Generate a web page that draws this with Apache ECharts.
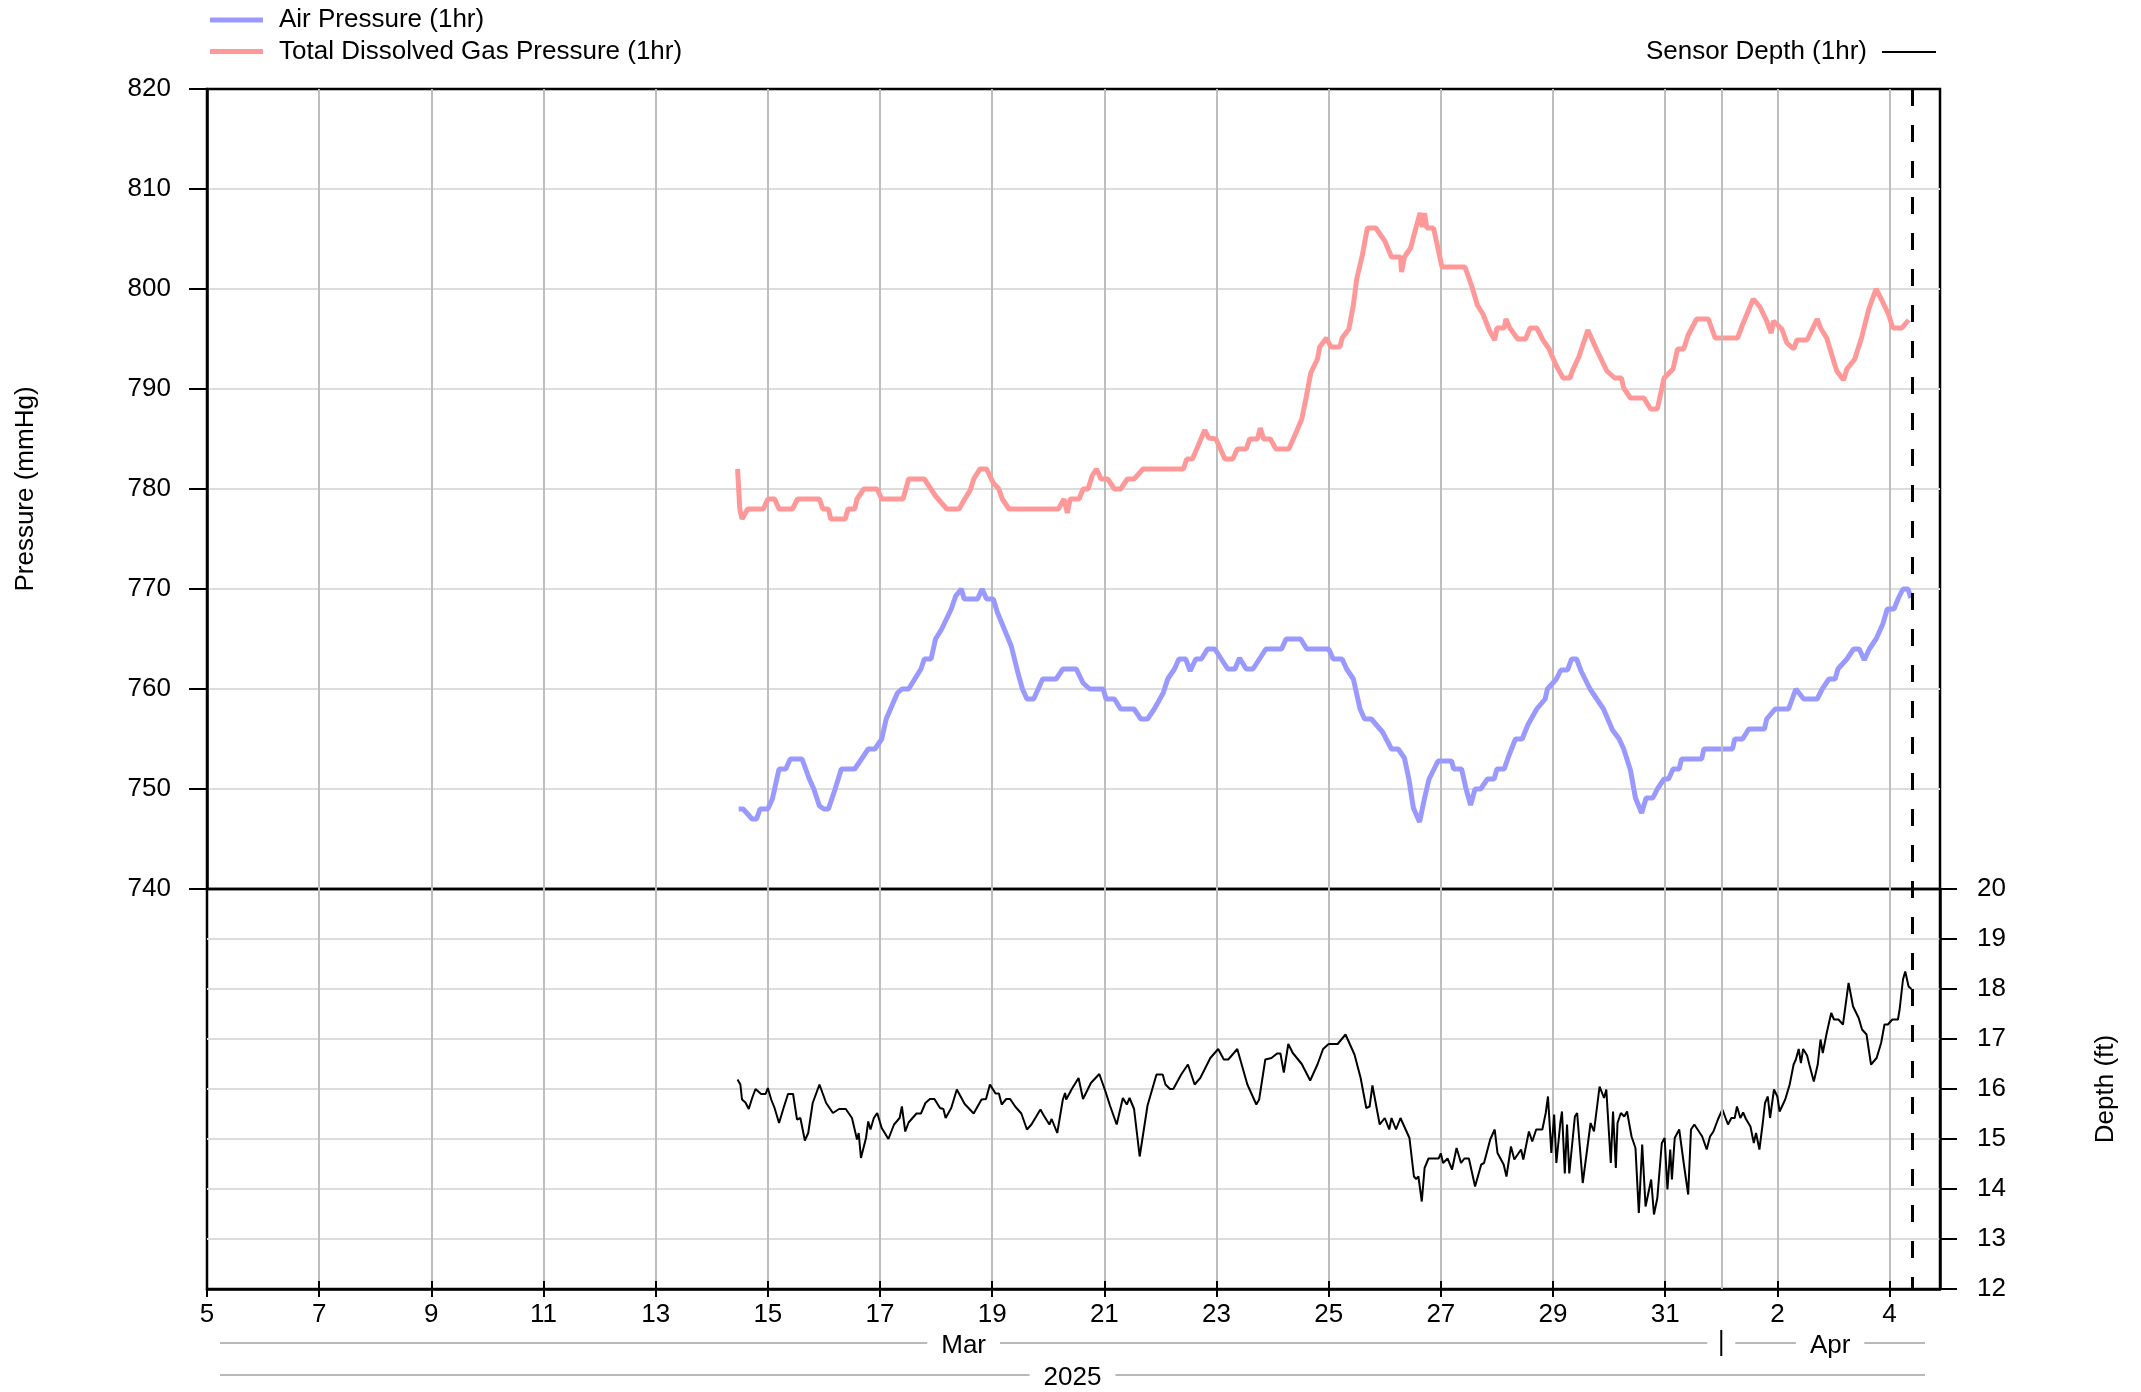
<!DOCTYPE html>
<html><head><meta charset="utf-8">
<script src="https://cdn.jsdelivr.net/npm/echarts@6/dist/echarts.min.js"></script>
<style>html,body{margin:0;padding:0;background:#fff}#c{width:2141px;height:1392px}</style>
</head><body><div id="c"></div>
<script>
// Time is given as day-of-March (decimal); values above 31 are April (32 = Apr 1).
const AXIS_START_DAY = 5;      // Mar 5 00:00
const AXIS_END_DAY = 35.9;     // Apr 4 ~21:30
const NOW_DAY = 35.41;         // dashed "now" marker
const MONTH_BREAK_DAY = 32;    // Apr 1
const xTickLabels = ['5','7','9','11','13','15','17','19','21','23','25','27','29','31','2','4'];
const monthNames = ['Mar','Apr'];
const yearName = '2025';
const pressureMin = 740, pressureMax = 820, pressureStep = 10;
const depthMin = 12, depthMax = 20, depthStep = 1;

const airDay = [14.48,14.56,14.72,14.8,14.86,15.0,15.08,15.2,15.32,15.4,15.61,15.74,15.82,15.92,16.0,16.08,16.2,16.31,16.55,16.67,16.79,16.91,17.03,17.11,17.31,17.39,17.51,17.73,17.79,17.91,17.99,18.1,18.27,18.35,18.45,18.5,18.74,18.82,18.9,19.02,19.09,19.34,19.46,19.54,19.62,19.74,19.9,20.14,20.26,20.5,20.62,20.74,20.98,21.03,21.18,21.29,21.53,21.65,21.77,21.89,22.05,22.13,22.25,22.33,22.45,22.53,22.63,22.73,22.84,22.97,23.2,23.33,23.41,23.53,23.65,23.88,24.16,24.24,24.5,24.61,25.0,25.08,25.24,25.32,25.44,25.56,25.64,25.76,25.96,26.12,26.24,26.35,26.43,26.51,26.62,26.71,26.79,26.95,27.19,27.23,27.37,27.45,27.53,27.61,27.71,27.83,27.95,28.0,28.13,28.21,28.33,28.45,28.55,28.71,28.86,28.9,29.06,29.14,29.26,29.33,29.42,29.5,29.66,29.9,30.06,30.18,30.26,30.38,30.47,30.58,30.66,30.78,30.86,30.98,31.06,31.14,31.25,31.29,31.65,31.69,32.2,32.24,32.38,32.49,32.77,32.81,32.96,33.2,33.33,33.47,33.71,33.8,33.92,34.03,34.08,34.24,34.36,34.46,34.55,34.64,34.76,34.88,34.96,35.08,35.16,35.24,35.33,35.38];
const airValue = [748,748,747,747,748,748,749,752,752,753,753,751,750,748.3,748,748,750,752,752,753,754,754,755,757,759.6,760,760,762,763,763,765,766,768,769.3,770,769,769,770,769,769,767.7,764.3,761.6,760,759,759,761,761,762,762,760.6,760,760,759,759,758,758,757,757,758,759.6,761,762,763,763,761.8,763,763,764,764,762,762,763.1,762,762,764,764,765,765,764,764,763,763,762,761,758,757,757,755.7,754,754,753.1,751,748.1,746.7,749.1,751,752.8,752.8,752,752,750,748.4,750,750,751,751,752,752,753.3,755,755,756.4,758,759,760,761,761.9,761.9,763,763,761.8,760,758,755.9,755,754,751.9,749.1,747.6,749.1,749.1,750,751,751,752,752,753,753,754,754,755,755,756,756,757,758,758,760,759,759,760,761,761,762,763,764,764,762.9,764,765,766.5,768,768,769.1,770,770,769.1];

const tdgDay = [14.46,14.5,14.54,14.64,14.92,15.0,15.12,15.2,15.44,15.53,15.92,15.98,16.08,16.12,16.38,16.43,16.55,16.59,16.71,16.95,17.03,17.41,17.51,17.79,17.99,18.19,18.41,18.51,18.61,18.67,18.78,18.9,19.02,19.12,19.18,19.3,20.18,20.28,20.34,20.39,20.55,20.62,20.71,20.78,20.86,20.94,21.06,21.18,21.29,21.41,21.53,21.69,22.41,22.47,22.57,22.67,22.79,22.86,22.99,23.15,23.29,23.37,23.53,23.59,23.73,23.78,23.84,23.96,24.06,24.29,24.43,24.52,24.6,24.68,24.8,24.84,24.96,25.04,25.2,25.24,25.36,25.44,25.5,25.6,25.69,25.84,26.0,26.12,26.28,26.3,26.35,26.46,26.55,26.63,26.67,26.71,26.75,26.87,27.02,27.43,27.55,27.65,27.75,27.87,27.96,28.0,28.13,28.16,28.23,28.37,28.51,28.59,28.71,28.82,28.93,29.06,29.18,29.3,29.36,29.46,29.62,29.78,29.96,30.1,30.22,30.26,30.38,30.62,30.74,30.86,30.98,31.14,31.22,31.33,31.41,31.56,31.77,31.89,32.29,32.37,32.57,32.69,32.81,32.89,32.93,33.08,33.17,33.29,33.35,33.53,33.71,33.77,33.88,34.02,34.06,34.18,34.24,34.38,34.5,34.63,34.76,34.86,34.98,35.06,35.22,35.34];
const tdgValue = [782,778,777,778,778,779,779,778,778,779,779,778,778,777,777,778,778,779,780,780,779,779,781,781,779.3,778,778,779,779.9,781,782,782,780.6,780,779,778,778,779,777.6,779,779,780,780,781.3,782,781,781,780,780,781,781,782,782,783,783,784.3,785.9,785.1,785,783,783,784,784,785,785,786.1,785,785,784,784,785.8,787,789.2,791.6,793,794.2,795.1,794.2,794.2,795.1,796,798.4,801,803.4,806.1,806.1,804.8,803.2,803.2,801.7,803.2,804.1,806,807.6,806.2,807.6,806.1,806.1,802.2,802.2,800.3,798.4,797.5,795.8,794.9,796.1,796.1,797,796.1,795,795,796.1,796.1,794.9,794,792.3,791.1,791.1,792,793.2,795.9,793.9,791.8,791.1,791.1,790.1,789.1,789.1,788,788,791.1,792,794,794,795.4,797,797,795.1,795.1,796.3,799,798.2,796.8,795.6,796.8,796,794.6,794,794.9,794.9,797,796.1,795.1,792.5,791.8,790.9,792,793,795.1,798,800,798.9,797.5,796.1,796.1,796.9];

const depthDay = [14.46,14.51,14.54,14.6,14.66,14.72,14.78,14.88,14.96,15.0,15.06,15.12,15.2,15.28,15.36,15.45,15.52,15.58,15.66,15.72,15.8,15.92,16.04,16.16,16.27,16.39,16.5,16.59,16.62,16.66,16.75,16.79,16.83,16.89,16.95,17.03,17.15,17.25,17.35,17.39,17.45,17.51,17.65,17.73,17.81,17.89,17.97,18.07,18.13,18.17,18.27,18.37,18.51,18.67,18.81,18.89,18.96,19.06,19.12,19.17,19.25,19.32,19.41,19.52,19.62,19.7,19.86,19.92,20.02,20.06,20.16,20.26,20.3,20.32,20.42,20.54,20.62,20.76,20.91,21.02,21.1,21.22,21.33,21.4,21.45,21.53,21.63,21.77,21.93,22.04,22.09,22.17,22.23,22.37,22.49,22.61,22.71,22.89,23.03,23.13,23.21,23.37,23.55,23.71,23.76,23.87,23.98,24.08,24.14,24.2,24.28,24.36,24.52,24.67,24.8,24.9,25.0,25.16,25.3,25.46,25.57,25.67,25.73,25.78,25.91,26.0,26.08,26.12,26.2,26.28,26.44,26.52,26.56,26.6,26.66,26.71,26.78,26.96,27.0,27.04,27.12,27.2,27.28,27.36,27.42,27.5,27.61,27.72,27.77,27.88,27.96,28.01,28.12,28.17,28.25,28.31,28.43,28.47,28.57,28.63,28.7,28.81,28.87,28.91,28.97,29.02,29.06,29.13,29.16,29.21,29.25,29.29,29.35,29.39,29.43,29.53,29.67,29.73,29.83,29.91,29.95,30.03,30.07,30.12,30.15,30.21,30.27,30.32,30.4,30.47,30.53,30.59,30.65,30.75,30.8,30.86,30.94,30.99,31.04,31.09,31.12,31.17,31.25,31.33,31.41,31.46,31.52,31.66,31.74,31.8,31.86,31.94,32.02,32.12,32.18,32.24,32.28,32.34,32.39,32.44,32.52,32.58,32.62,32.68,32.74,32.78,32.83,32.87,32.94,33.0,33.04,33.14,33.22,33.29,33.33,33.38,33.42,33.46,33.53,33.57,33.65,33.72,33.77,33.81,33.88,33.96,34.01,34.09,34.17,34.23,34.27,34.35,34.45,34.51,34.59,34.67,34.77,34.85,34.91,34.97,35.05,35.15,35.18,35.24,35.28,35.34,35.39];
const depthValue = [16.19,16.09,15.79,15.73,15.6,15.82,16.0,15.9,15.9,16.02,15.79,15.62,15.32,15.62,15.9,15.9,15.39,15.42,14.97,15.12,15.72,16.09,15.72,15.52,15.6,15.6,15.42,14.99,15.12,14.62,15.02,15.35,15.19,15.42,15.52,15.22,15.0,15.29,15.42,15.65,15.15,15.33,15.51,15.51,15.72,15.8,15.8,15.62,15.6,15.42,15.62,15.99,15.7,15.51,15.79,15.8,16.09,15.91,15.91,15.69,15.8,15.8,15.65,15.51,15.19,15.29,15.59,15.47,15.29,15.4,15.12,15.79,15.92,15.79,16.0,16.22,15.8,16.12,16.3,15.95,15.67,15.29,15.82,15.69,15.82,15.6,14.65,15.67,16.29,16.29,16.09,16.0,16.0,16.29,16.49,16.09,16.22,16.62,16.8,16.59,16.59,16.8,16.09,15.69,15.79,16.59,16.62,16.71,16.71,16.33,16.9,16.72,16.5,16.17,16.49,16.8,16.9,16.9,17.09,16.69,16.22,15.62,15.65,16.07,15.29,15.42,15.19,15.42,15.19,15.42,15.02,14.25,14.2,14.25,13.75,14.42,14.61,14.61,14.71,14.52,14.61,14.39,14.82,14.52,14.61,14.61,14.05,14.49,14.52,14.99,15.19,14.72,14.49,14.25,14.85,14.59,14.79,14.59,15.15,14.95,15.19,15.19,15.52,15.85,14.72,15.49,14.52,15.32,15.55,14.31,15.29,14.31,14.99,15.45,15.52,14.12,15.32,15.15,16.05,15.82,15.99,14.52,15.55,14.42,15.32,15.52,15.45,15.55,15.05,14.82,13.52,14.89,13.65,14.19,13.49,13.82,14.92,15.02,13.99,14.79,14.19,15.02,15.19,14.52,13.89,15.19,15.29,15.05,14.79,15.05,15.15,15.39,15.59,15.29,15.42,15.42,15.65,15.42,15.53,15.4,15.25,14.92,15.12,14.79,15.32,15.72,15.85,15.42,15.99,15.85,15.55,15.79,16.09,16.49,16.59,16.8,16.52,16.8,16.67,16.49,16.15,16.49,16.99,16.72,17.12,17.52,17.39,17.39,17.29,17.79,18.12,17.65,17.42,17.19,17.09,16.49,16.62,16.92,17.29,17.29,17.39,17.39,17.59,18.19,18.35,18.05,18.0];

const FONT = '"Liberation Sans", Arial, Helvetica, sans-serif';
const FS = 26;
const V_GRID = '#bdbdbd', H_GRID = '#dcdcdc', AXIS_C = '#000';
const toX = d => d - AXIS_START_DAY;
const pairs = (xs, ys) => xs.map((d, i) => [toX(d), ys[i]]);
const xMax = toX(AXIS_END_DAY);

const chart = echarts.init(document.getElementById('c'));
const txt = {color: '#000', fontFamily: FONT, fontSize: FS};
const vSplit = {show: true, showMinLine: false, showMaxLine: false, lineStyle: {color: V_GRID, width: 2}};
const hSplit = {show: true, showMinLine: false, showMaxLine: false, lineStyle: {color: H_GRID, width: 2}};

const gridL = 207, gridW = 1733;
const option = {
  animation: false,
  backgroundColor: '#fff',
  textStyle: {fontFamily: FONT},
  grid: [
    {left: gridL, top: 89, width: gridW, height: 800, show: true, borderColor: AXIS_C, borderWidth: 2.5, backgroundColor: 'transparent'},
    {left: gridL, top: 889, width: gridW, height: 400, show: true, borderColor: AXIS_C, borderWidth: 2.5, backgroundColor: 'transparent'}
  ],
  legend: [
    {left: 205, top: 2, orient: 'vertical', icon: 'rect', itemWidth: 53, itemHeight: 5, itemGap: 5.5,
     textStyle: Object.assign({}, txt, {padding: [0, 0, 0, 11]}),
     data: ['Air Pressure (1hr)', 'Total Dissolved Gas Pressure (1hr)']},
    {right: 200, top: 34, orient: 'vertical', align: 'right', icon: 'rect', itemWidth: 54, itemHeight: 2,
     textStyle: Object.assign({}, txt, {padding: [0, 10, 0, 0]}),
     data: ['Sensor Depth (1hr)']}
  ],
  xAxis: [
    {type: 'value', gridIndex: 0, min: 0, max: xMax, interval: 2, position: 'bottom',
     axisLine: {show: false, onZero: false}, axisTick: {show: false}, axisLabel: {show: false},
     splitLine: vSplit},
    {type: 'value', gridIndex: 1, min: 0, max: xMax, interval: 2, position: 'bottom',
     axisLine: {show: true, onZero: false, lineStyle: {color: AXIS_C, width: 2.5}},
     axisTick: {show: true, length: 8, lineStyle: {color: AXIS_C, width: 2}},
     axisLabel: Object.assign({}, txt, {margin: 13, showMaxLabel: false,
       formatter: v => { const i = v / 2; return Number.isInteger(i) && xTickLabels[i] !== undefined ? xTickLabels[i] : ''; }}),
     splitLine: vSplit},
    {type: 'value', gridIndex: 1, min: 0, max: xMax, interval: 2, position: 'bottom',
     axisLine: {show: false, onZero: false}, axisTick: {show: true, inside: true, length: 8, lineStyle: {color: AXIS_C, width: 2}},
     axisLabel: {show: false}, splitLine: {show: false}}
  ],
  yAxis: [
    {type: 'value', gridIndex: 0, min: pressureMin, max: pressureMax, interval: pressureStep, position: 'left',
     name: 'Pressure (mmHg)', nameLocation: 'middle', nameRotate: 90, nameGap: 168, nameTextStyle: txt,
     axisLine: {show: true, onZero: false, lineStyle: {color: AXIS_C, width: 2.5}},
     axisTick: {show: true, length: 18, lineStyle: {color: AXIS_C, width: 2}},
     axisLabel: Object.assign({}, txt, {margin: 36, padding: [4, 0, 0, 0]}),
     splitLine: hSplit},
    {type: 'value', gridIndex: 1, min: depthMin, max: depthMax, interval: depthStep, position: 'right',
     name: 'Depth (ft)', nameLocation: 'middle', nameRotate: 90, nameGap: 153, nameTextStyle: txt,
     axisLine: {show: true, onZero: false, lineStyle: {color: AXIS_C, width: 2.5}},
     axisTick: {show: true, length: 17, lineStyle: {color: AXIS_C, width: 2}},
     axisLabel: Object.assign({}, txt, {margin: 37, padding: [4, 0, 0, 0]}),
     splitLine: hSplit}
  ],
  series: [
    {name: 'Air Pressure (1hr)', type: 'line', xAxisIndex: 0, yAxisIndex: 0, data: pairs(airDay, airValue),
     symbol: 'none', showSymbol: false, color: '#9999ff', lineStyle: {color: '#9999ff', width: 5}, z: 3,
     markLine: {silent: true, symbol: 'none', label: {show: false}, animation: false,
       data: [
         [{coord: [toX(MONTH_BREAK_DAY), pressureMax], lineStyle: {color: V_GRID, width: 2, type: 'solid'}},
          {coord: [toX(MONTH_BREAK_DAY), pressureMin]}],
         [{coord: [toX(NOW_DAY), pressureMax], lineStyle: {color: '#000', width: 3, type: [17, 19]}},
          {coord: [toX(NOW_DAY), pressureMin]}]
       ]}},
    {name: 'Total Dissolved Gas Pressure (1hr)', type: 'line', xAxisIndex: 0, yAxisIndex: 0, data: pairs(tdgDay, tdgValue),
     symbol: 'none', showSymbol: false, color: '#ff9999', lineStyle: {color: '#ff9999', width: 5}, z: 3},
    {name: 'Sensor Depth (1hr)', type: 'line', xAxisIndex: 1, yAxisIndex: 1, data: pairs(depthDay, depthValue),
     symbol: 'none', showSymbol: false, color: '#000', lineStyle: {color: '#000', width: 2}, z: 3,
     markLine: {silent: true, symbol: 'none', label: {show: false}, animation: false,
       data: [
         [{coord: [toX(MONTH_BREAK_DAY), depthMax], lineStyle: {color: V_GRID, width: 2, type: 'solid'}},
          {coord: [toX(MONTH_BREAK_DAY), depthMin]}],
         [{coord: [toX(NOW_DAY), depthMax], lineStyle: {color: '#000', width: 3, type: [17, 19], dashOffset: 8}},
          {coord: [toX(NOW_DAY), depthMin]}]
       ]}}
  ]
};
chart.setOption(option);

// Month / year band under the time axis, positioned through the axis scale.
(function () {
  const px = v => chart.convertToPixel({xAxisIndex: 1}, v);
  const axisY = chart.convertToPixel({yAxisIndex: 1}, depthMin);
  const ctx = document.createElement('canvas').getContext('2d');
  ctx.font = FS + 'px ' + FONT;
  const w = s => ctx.measureText(s).width;
  const els = [];
  const GAP = 14;
  function band(x0, x1, y, label) {
    const cx = (x0 + x1) / 2, hw = w(label) / 2 + GAP;
    els.push({type: 'line', shape: {x1: x0, y1: y, x2: cx - hw, y2: y}, style: {stroke: '#b9b9b9', lineWidth: 2}});
    els.push({type: 'line', shape: {x1: cx + hw, y1: y, x2: x1, y2: y}, style: {stroke: '#b9b9b9', lineWidth: 2}});
    els.push({type: 'text', x: cx, y: y + 3, style: {text: label, fill: '#000', font: FS + 'px ' + FONT, align: 'center', verticalAlign: 'middle'}});
  }
  const xs = px(0), xe = px(xMax), xb = px(toX(MONTH_BREAK_DAY));
  const yM = axisY + 54, yY = axisY + 86;
  band(xs + 13, xb - 14, yM, monthNames[0]);
  band(xb + 14, xe - 15, yM, monthNames[1]);
  band(xs + 13, xe - 15, yY, yearName);
  els.push({type: 'line', shape: {x1: xb, y1: yM - 13, x2: xb, y2: yM + 13}, style: {stroke: '#000', lineWidth: 2}});
  chart.setOption({graphic: {elements: els}});
})();
</script>
</body></html>
